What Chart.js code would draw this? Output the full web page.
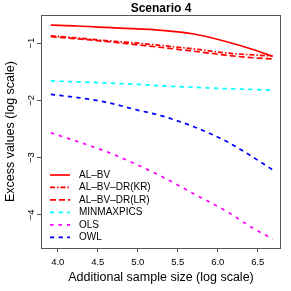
<!DOCTYPE html>
<html><head><meta charset="utf-8">
<script src="https://cdn.jsdelivr.net/npm/chart.js@4.4.1/dist/chart.umd.min.js"></script>
<style>html,body{margin:0;padding:0;background:#fff;}canvas{display:block;}</style>
</head><body>
<canvas id="c" width="291" height="291"></canvas>
<script>
// ---- data ----
const logSampleSize = [3.912, 4.25, 4.6, 5.0, 5.3, 5.7, 6.1, 6.45, 6.685];
const alBv        = [-0.686, -0.70, -0.725, -0.75, -0.775, -0.84, -0.97, -1.115, -1.23];
const alBvDrKr    = [-0.87, -0.91, -0.955, -1.0, -1.04, -1.10, -1.17, -1.205, -1.225];
const alBvDrLr    = [-0.885, -0.925, -0.97, -1.03, -1.075, -1.14, -1.21, -1.255, -1.275];
const minmaxpics  = [-1.66, -1.675, -1.695, -1.72, -1.745, -1.77, -1.795, -1.81, -1.82];
const ols         = [-2.565, -2.72, -2.89, -3.13, -3.33, -3.63, -3.93, -4.24, -4.42];
const owl         = [-1.895, -1.95, -2.03, -2.17, -2.27, -2.46, -2.71, -3.0, -3.21];
const seriesNames = ['AL\u2013BV', 'AL\u2013BV\u2013DR(KR)', 'AL\u2013BV\u2013DR(LR)', 'MINMAXPICS', 'OLS', 'OWL'];
const xTickValues = [4.0, 4.5, 5.0, 5.5, 6.0, 6.5];
const yTickValues = [-4, -3, -2, -1];
const titleText = 'Scenario 4';
const xTitle = 'Additional sample size (log scale)';
const yTitle = 'Excess values (log scale)';

const seriesValues = [alBv, alBvDrKr, alBvDrLr, minmaxpics, ols, owl];
const styles = [
  {color: '#ff0000', dash: [], width: 1.7},
  {color: '#ff0000', dash: [5, 2, 1.5, 2], width: 1.7},
  {color: '#ff0000', dash: [6, 3], width: 1.7},
  {color: '#00ffff', dash: [4.3, 4.3], width: 1.7},
  {color: '#ff00ff', dash: [3.5, 5], width: 1.7},
  {color: '#0000ff', dash: [4.3, 4.3], width: 1.7}
];
const FONT = '"Liberation Sans", Arial, Helvetica, sans-serif';
Chart.defaults.font.family = FONT;
Chart.defaults.color = '#000';

const datasets = seriesValues.map((vals, i) => ({
  label: seriesNames[i],
  data: logSampleSize.map((x, j) => ({x: x, y: vals[j]})),
  borderColor: styles[i].color,
  borderDash: styles[i].dash,
  borderWidth: styles[i].width,
  pointRadius: 0,
  fill: false,
  cubicInterpolationMode: 'monotone'
}));

const AXIS_COLOR = '#555';

const decor = {
  id: 'decor',
  afterDraw(chart) {
    const ctx = chart.ctx;
    const a = chart.chartArea;
    ctx.save();
    // box
    ctx.strokeStyle = AXIS_COLOR;
    ctx.lineWidth = 1;
    ctx.strokeRect(Math.round(a.left) + 0.5, Math.round(a.top) + 0.5,
                   Math.round(a.right - a.left) - 1, Math.round(a.bottom - a.top));
    // rotated y tick labels
    const ys = chart.scales.y;
    ctx.fillStyle = '#000';
    ctx.font = '9.5px ' + FONT;
    ctx.textAlign = 'center';
    ctx.textBaseline = 'middle';
    yTickValues.forEach(v => {
      const py = ys.getPixelForValue(v);
      ctx.save();
      ctx.translate(31, py);
      ctx.rotate(-Math.PI / 2);
      ctx.fillText('\u2212' + Math.abs(v), 0, 0);
      ctx.restore();
    });
    // legend
    ctx.font = '10px ' + FONT;
    ctx.textAlign = 'left';
    chart.data.datasets.forEach((ds, i) => {
      const y = 175 + i * 12.46;
      ctx.strokeStyle = ds.borderColor;
      ctx.lineWidth = ds.borderWidth;
      ctx.setLineDash(ds.borderDash);
      ctx.beginPath();
      ctx.moveTo(50, y);
      ctx.lineTo(70, y);
      ctx.stroke();
      ctx.setLineDash([]);
      ctx.fillStyle = '#000';
      ctx.fillText(ds.label, 79, y);
    });
    ctx.restore();
  }
};

new Chart(document.getElementById('c'), {
  type: 'line',
  data: {datasets},
  plugins: [decor],
  options: {
    responsive: false,
    animation: false,
    devicePixelRatio: 1,
    layout: {padding: {left: 0, right: 10, top: 0, bottom: 0}},
    plugins: {
      legend: {display: false},
      tooltip: {enabled: false},
      title: {
        display: true,
        text: titleText,
        fullSize: false,
        font: {size: 12, weight: 'bold', family: FONT, lineHeight: 1.1},
        color: '#000',
        padding: {top: 2, bottom: 0}
      }
    },
    scales: {
      x: {
        type: 'linear',
        min: 3.79, max: 6.79,
        afterBuildTicks: s => { s.ticks = xTickValues.map(v => ({value: v})); },
        afterFit: s => { s.height = 43; },
        ticks: {
          callback: v => Number(v).toFixed(1),
          font: {size: 9.5},
          color: '#000',
          padding: 5,
          maxRotation: 0, minRotation: 0, autoSkip: false
        },
        grid: {drawOnChartArea: false, drawTicks: true, tickLength: 4, color: AXIS_COLOR},
        border: {display: false},
        title: {display: true, text: xTitle, font: {size: 12.5, lineHeight: 1.2}, color: '#000',
                padding: {top: 0, bottom: 5.5}}
      },
      y: {
        type: 'linear',
        min: -4.578, max: -0.511,
        afterBuildTicks: s => { s.ticks = yTickValues.map(v => ({value: v})); },
        afterFit: s => { s.width = 41; },
        ticks: {display: false},
        grid: {drawOnChartArea: false, drawTicks: true, tickLength: 4, color: AXIS_COLOR},
        border: {display: false},
        title: {display: true, text: yTitle, font: {size: 12.5, lineHeight: 1.2}, color: '#000',
                padding: {top: 3.5, bottom: 0}}
      }
    }
  }
});
</script>
</body></html>
